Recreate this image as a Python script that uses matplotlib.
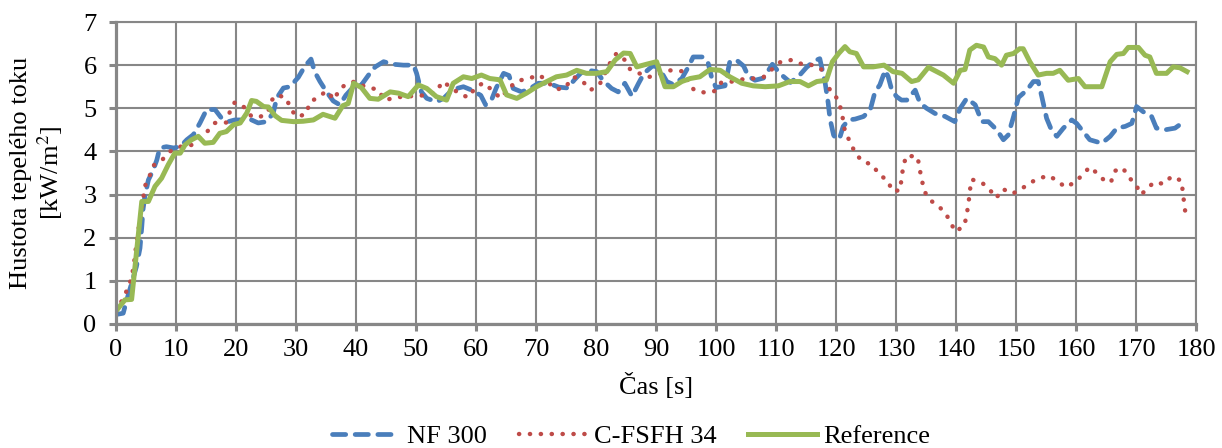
"""
Heat flux density over time: NF 300 vs C-FSFH 34 vs reference panel.
Values read off the original Excel chart (roughly 1 s resolution).
"""
import matplotlib
matplotlib.use("Agg")
import matplotlib.pyplot as plt

# --- data ---------------------------------------------------------------------------------

SERIES_LABELS = ["NF 300", "C-FSFH 34", "Reference"]

nf_t = [0.0, 1.2, 1.8, 2.6, 3.4, 4.0, 4.3, 4.5, 4.8, 5.4, 6.2, 6.8, 7.3, 8.4, 9.6, 10.7,
        11.8, 12.9, 14.0, 15.1, 16.5, 17.6, 18.7, 19.8, 21.2, 22.6, 23.7, 25.1, 26.2, 26.8,
        27.9, 29.0, 30.4, 31.5, 32.5, 33.1, 34.0, 35.1, 36.2, 37.3, 38.3, 39.6, 40.9, 42.3,
        43.2, 44.6, 46.2, 47.9, 49.6, 50.1, 50.9, 51.8, 53.4, 54.6, 55.7, 56.8, 57.9, 59.3,
        60.8, 61.6, 62.6, 63.4, 64.6, 65.5, 66.2, 67.6, 68.9, 70.4, 72.1, 73.8, 75.3, 76.4,
        77.5, 78.7, 80.1, 81.2, 82.6, 83.7, 84.8, 86.0, 87.1, 88.0, 89.4, 90.4, 91.8, 92.9,
        94.3, 95.4, 96.2, 97.9, 98.7, 99.3, 100.0, 101.5, 102.3, 103.4, 104.6, 105.4, 106.5,
        107.9, 109.4, 110.7, 112.4, 113.7, 115.1, 116.4, 117.3, 118.2, 118.7, 119.0, 119.6,
        120.1, 120.7, 121.2, 122.1, 123.2, 124.6, 125.7, 126.5, 127.3, 128.2, 128.7, 129.3,
        130.1, 130.9, 131.8, 133.2, 134.0, 135.1, 136.5, 138.2, 139.8, 140.7, 141.8, 143.2,
        144.3, 145.4, 146.8, 147.9, 148.7, 149.6, 150.4, 151.8, 152.9, 153.7, 154.3, 155.1,
        155.9, 156.8, 157.9, 159.3, 160.1, 161.2, 162.3, 164.3, 165.7, 166.8, 168.2, 169.3,
        170.1, 171.2, 172.6, 173.4, 174.8, 176.5, 177.6, 178.4]
nf_q = [0.22, 0.25, 0.56, 0.94, 1.33, 1.76, 2.26, 2.65, 2.95, 3.34, 3.57, 3.80, 4.08, 4.11,
        4.08, 4.11, 4.27, 4.39, 4.66, 4.97, 4.97, 4.77, 4.69, 4.73, 4.73, 4.73, 4.66, 4.69,
        4.89, 5.24, 5.47, 5.50, 5.72, 5.98, 6.14, 5.85, 5.62, 5.38, 5.17, 5.08, 5.30, 5.50,
        5.54, 5.81, 5.96, 6.08, 6.02, 6.00, 6.00, 5.81, 5.38, 5.23, 5.15, 5.23, 5.38, 5.46,
        5.50, 5.42, 5.30, 5.08, 5.20, 5.48, 5.81, 5.76, 5.46, 5.38, 5.45, 5.58, 5.58, 5.49,
        5.47, 5.66, 5.82, 5.88, 5.85, 5.64, 5.46, 5.38, 5.58, 5.28, 5.58, 5.81, 5.98, 5.96,
        5.62, 5.55, 5.69, 5.96, 6.19, 6.19, 6.04, 5.70, 5.48, 5.52, 6.08, 6.12, 5.98, 5.74,
        5.65, 5.70, 6.02, 5.80, 5.60, 5.73, 5.95, 6.10, 6.15, 5.58, 5.12, 4.75, 4.38, 4.27,
        4.35, 4.58, 4.73, 4.75, 4.81, 4.96, 5.38, 5.54, 5.88, 5.73, 5.42, 5.27, 5.19, 5.19,
        5.42, 5.12, 5.00, 4.88, 4.81, 4.69, 5.00, 5.23, 5.08, 4.69, 4.69, 4.50, 4.27, 4.38,
        4.81, 5.25, 5.42, 5.62, 5.62, 5.27, 4.77, 4.50, 4.35, 4.54, 4.73, 4.65, 4.46, 4.27,
        4.19, 4.35, 4.54, 4.58, 4.65, 5.04, 4.92, 4.81, 4.54, 4.50, 4.54, 4.65, 4.58]

cf_t = [0.0, 1.3, 2.3, 2.9, 3.4, 3.9, 4.3, 4.8, 5.6, 6.3, 7.6, 9.0, 10.7, 12.6, 14.0, 15.2,
        16.5, 18.4, 19.0, 19.8, 21.3, 22.6, 24.0, 25.3, 25.9, 26.8, 28.4, 29.1, 30.2, 31.7,
        32.3, 33.7, 35.1, 36.4, 37.2, 38.5, 39.8, 41.8, 43.6, 44.8, 46.7, 48.4, 50.1, 51.7,
        53.4, 54.4, 55.7, 57.1, 58.7, 59.8, 61.2, 62.8, 64.1, 65.7, 67.1, 68.7, 70.6, 71.9,
        73.2, 74.7, 76.3, 78.0, 79.1, 80.7, 82.3, 83.4, 84.8, 85.7, 87.2, 88.7, 90.6, 92.2,
        94.3, 96.3, 98.2, 99.8, 100.9, 102.8, 104.4, 106.1, 107.9, 109.3, 110.8, 112.6,
        114.4, 116.3, 117.8, 119.1, 120.2, 120.8, 121.2, 121.5, 122.4, 123.2, 124.4, 126.1,
        127.2, 128.6, 129.4, 130.7, 130.9, 131.2, 131.7, 133.6, 133.9, 134.3, 134.7, 135.7,
        137.1, 138.3, 139.1, 139.9, 141.4, 141.8, 142.1, 142.3, 142.6, 144.3, 145.7, 146.7,
        147.8, 149.4, 150.9, 152.4, 154.0, 155.4, 156.9, 158.2, 159.8, 161.1, 162.3, 163.3,
        164.7, 165.8, 166.5, 167.8, 168.8, 170.0, 170.8, 171.9, 172.9, 174.7, 175.9, 177.6,
        177.8, 178.3]
cf_q = [0.30, 0.62, 0.94, 1.29, 1.87, 2.34, 2.65, 3.19, 3.43, 3.68, 3.79, 4.00, 4.11, 4.15,
        4.32, 4.46, 4.66, 4.67, 4.93, 5.14, 5.03, 4.81, 4.80, 4.90, 5.18, 5.31, 5.24, 4.98,
        4.80, 4.87, 5.14, 5.26, 5.40, 5.20, 5.44, 5.57, 5.62, 5.48, 5.44, 5.19, 5.25, 5.28,
        5.28, 5.31, 5.38, 5.62, 5.50, 5.35, 5.25, 5.46, 5.59, 5.41, 5.23, 5.50, 5.64, 5.69,
        5.77, 5.62, 5.44, 5.46, 5.73, 5.59, 5.42, 5.58, 6.04, 6.27, 6.12, 5.90, 5.81, 5.72,
        5.80, 5.88, 5.86, 5.43, 5.36, 5.40, 5.60, 5.62, 5.67, 5.69, 5.72, 5.90, 6.08, 6.12,
        6.02, 6.00, 5.88, 5.38, 5.23, 4.99, 4.72, 4.45, 4.21, 3.96, 3.77, 3.69, 3.46, 3.33,
        3.08, 3.10, 3.36, 3.64, 3.90, 3.88, 3.62, 3.35, 3.08, 2.87, 2.73, 2.56, 2.35, 2.14,
        2.28, 2.55, 2.81, 3.08, 3.35, 3.28, 3.10, 2.92, 3.13, 3.02, 3.13, 3.28, 3.38, 3.44,
        3.32, 3.17, 3.28, 3.46, 3.64, 3.52, 3.33, 3.28, 3.55, 3.62, 3.40, 3.23, 3.00, 3.13,
        3.28, 3.25, 3.42, 3.32, 3.05, 2.50]

ref_t = [0.0, 1.5, 2.6, 4.3, 5.4, 6.5, 7.6, 8.7, 9.8, 10.7, 11.5, 12.6, 13.7, 14.8, 16.2,
         17.3, 18.4, 19.6, 20.7, 21.8, 22.6, 23.4, 24.6, 25.4, 26.5, 27.6, 29.6, 31.2, 32.9,
         34.5, 36.5, 37.8, 38.7, 39.6, 40.9, 42.3, 43.7, 45.7, 47.1, 48.7, 50.4, 51.8, 53.4,
         55.1, 56.2, 57.9, 59.3, 60.9, 62.3, 64.0, 65.1, 66.8, 68.4, 70.1, 71.8, 73.4, 75.1,
         76.8, 78.4, 80.1, 81.8, 83.2, 84.6, 85.7, 86.8, 88.4, 90.1, 91.5, 92.9, 94.3, 95.7,
         97.3, 99.0, 100.7, 102.3, 104.3, 106.2, 108.2, 110.4, 112.3, 114.0, 115.4, 116.8,
         118.4, 119.4, 120.5, 121.5, 122.3, 123.4, 124.6, 126.2, 128.0, 129.5, 131.0, 132.6,
         133.7, 135.4, 137.9, 139.6, 140.7, 141.5, 142.3, 143.4, 144.6, 145.4, 146.5, 147.6,
         148.4, 149.6, 150.6, 151.2, 152.3, 153.7, 155.1, 156.2, 157.3, 158.7, 160.4, 161.5,
         164.3, 165.7, 166.8, 167.9, 168.7, 170.4, 171.5, 172.3, 173.4, 175.1, 176.2, 177.3,
         178.5]
ref_q = [0.30, 0.56, 0.57, 2.84, 2.84, 3.19, 3.38, 3.69, 3.96, 3.96, 4.15, 4.27, 4.35, 4.19,
         4.21, 4.42, 4.46, 4.62, 4.66, 4.89, 5.18, 5.16, 5.04, 5.03, 4.83, 4.72, 4.69, 4.70,
         4.73, 4.86, 4.77, 5.06, 5.11, 5.58, 5.48, 5.23, 5.21, 5.38, 5.35, 5.27, 5.54, 5.46,
         5.27, 5.19, 5.58, 5.73, 5.69, 5.77, 5.69, 5.66, 5.31, 5.23, 5.35, 5.50, 5.62, 5.73,
         5.77, 5.88, 5.81, 5.81, 5.85, 6.12, 6.28, 6.27, 5.96, 6.02, 6.08, 5.50, 5.50, 5.62,
         5.69, 5.73, 5.90, 5.88, 5.73, 5.58, 5.52, 5.50, 5.52, 5.62, 5.62, 5.52, 5.62, 5.65,
         6.08, 6.28, 6.43, 6.31, 6.27, 5.96, 5.96, 6.00, 5.85, 5.81, 5.62, 5.66, 5.95, 5.77,
         5.58, 5.88, 5.90, 6.35, 6.46, 6.42, 6.19, 6.15, 6.00, 6.23, 6.27, 6.38, 6.38, 6.08,
         5.77, 5.81, 5.81, 5.88, 5.65, 5.69, 5.50, 5.50, 6.08, 6.25, 6.27, 6.41, 6.41, 6.23,
         6.19, 5.81, 5.81, 5.96, 5.94, 5.85]

X_TICKS = list(range(0, 181, 10))
Y_TICKS = list(range(0, 8))

# --- style --------------------------------------------------------------------------------

GRID = "#878787"
BLUE = "#4A7EBB"
RED = "#BE4B48"
GREEN = "#98B954"

plt.rcParams["font.family"] = ["Liberation Serif", "DejaVu Serif"]
plt.rcParams["mathtext.fontset"] = "stix"
plt.rcParams["font.size"] = 19


def main() -> None:
    fig = plt.figure(figsize=(12.22, 4.48), dpi=100)
    ax = fig.add_axes([116 / 1222, 1 - 324 / 448, 1080 / 1222, 302 / 448])

    ax.plot(nf_t, nf_q, color=BLUE, lw=3.4, dashes=(2.8, 2.0),
            dash_capstyle="round", label=SERIES_LABELS[0])
    ax.plot(cf_t, cf_q, color=RED, lw=3.2, dashes=(0.05, 2.4),
            dash_capstyle="round", label=SERIES_LABELS[1])
    ax.plot(ref_t, ref_q, color=GREEN, lw=3.6, solid_joinstyle="round",
            label=SERIES_LABELS[2])

    ax.set_xlim(0, 180)
    ax.set_ylim(0, 7)
    ax.set_xticks(X_TICKS)
    ax.set_yticks(Y_TICKS)
    ax.grid(True, color=GRID, lw=1.5)
    ax.set_axisbelow(True)

    for side in ["left", "bottom"]:
        ax.spines[side].set_color(GRID)
        ax.spines[side].set_linewidth(2.3)
    for side in ["top", "right"]:
        ax.spines[side].set_color(GRID)
        ax.spines[side].set_linewidth(1.5)
    ax.tick_params(axis="both", direction="out", length=5, width=2.2, color=GRID)
    ax.tick_params(axis="x", pad=6)
    ax.tick_params(axis="y", pad=9)

    ax.set_xlabel("Čas [s]")
    ax.xaxis.set_label_coords(0.5, -0.205)
    ax.xaxis.label.set_va("center")

    ax.set_ylabel("Hustota tepelého toku\n[kW/m$^2$]", linespacing=1.15)
    ax.yaxis.set_label_coords(-0.073, 0.5)
    ax.yaxis.label.set_va("center")

    fig.legend(loc="center", bbox_to_anchor=(631 / 1222, 1 - 436 / 448), ncol=3,
               frameon=False, handlelength=2.6, handletextpad=0.25, columnspacing=1.2,
               borderpad=0)

    fig.savefig("out.png", dpi=100)
    plt.close(fig)


if __name__ == "__main__":
    main()
